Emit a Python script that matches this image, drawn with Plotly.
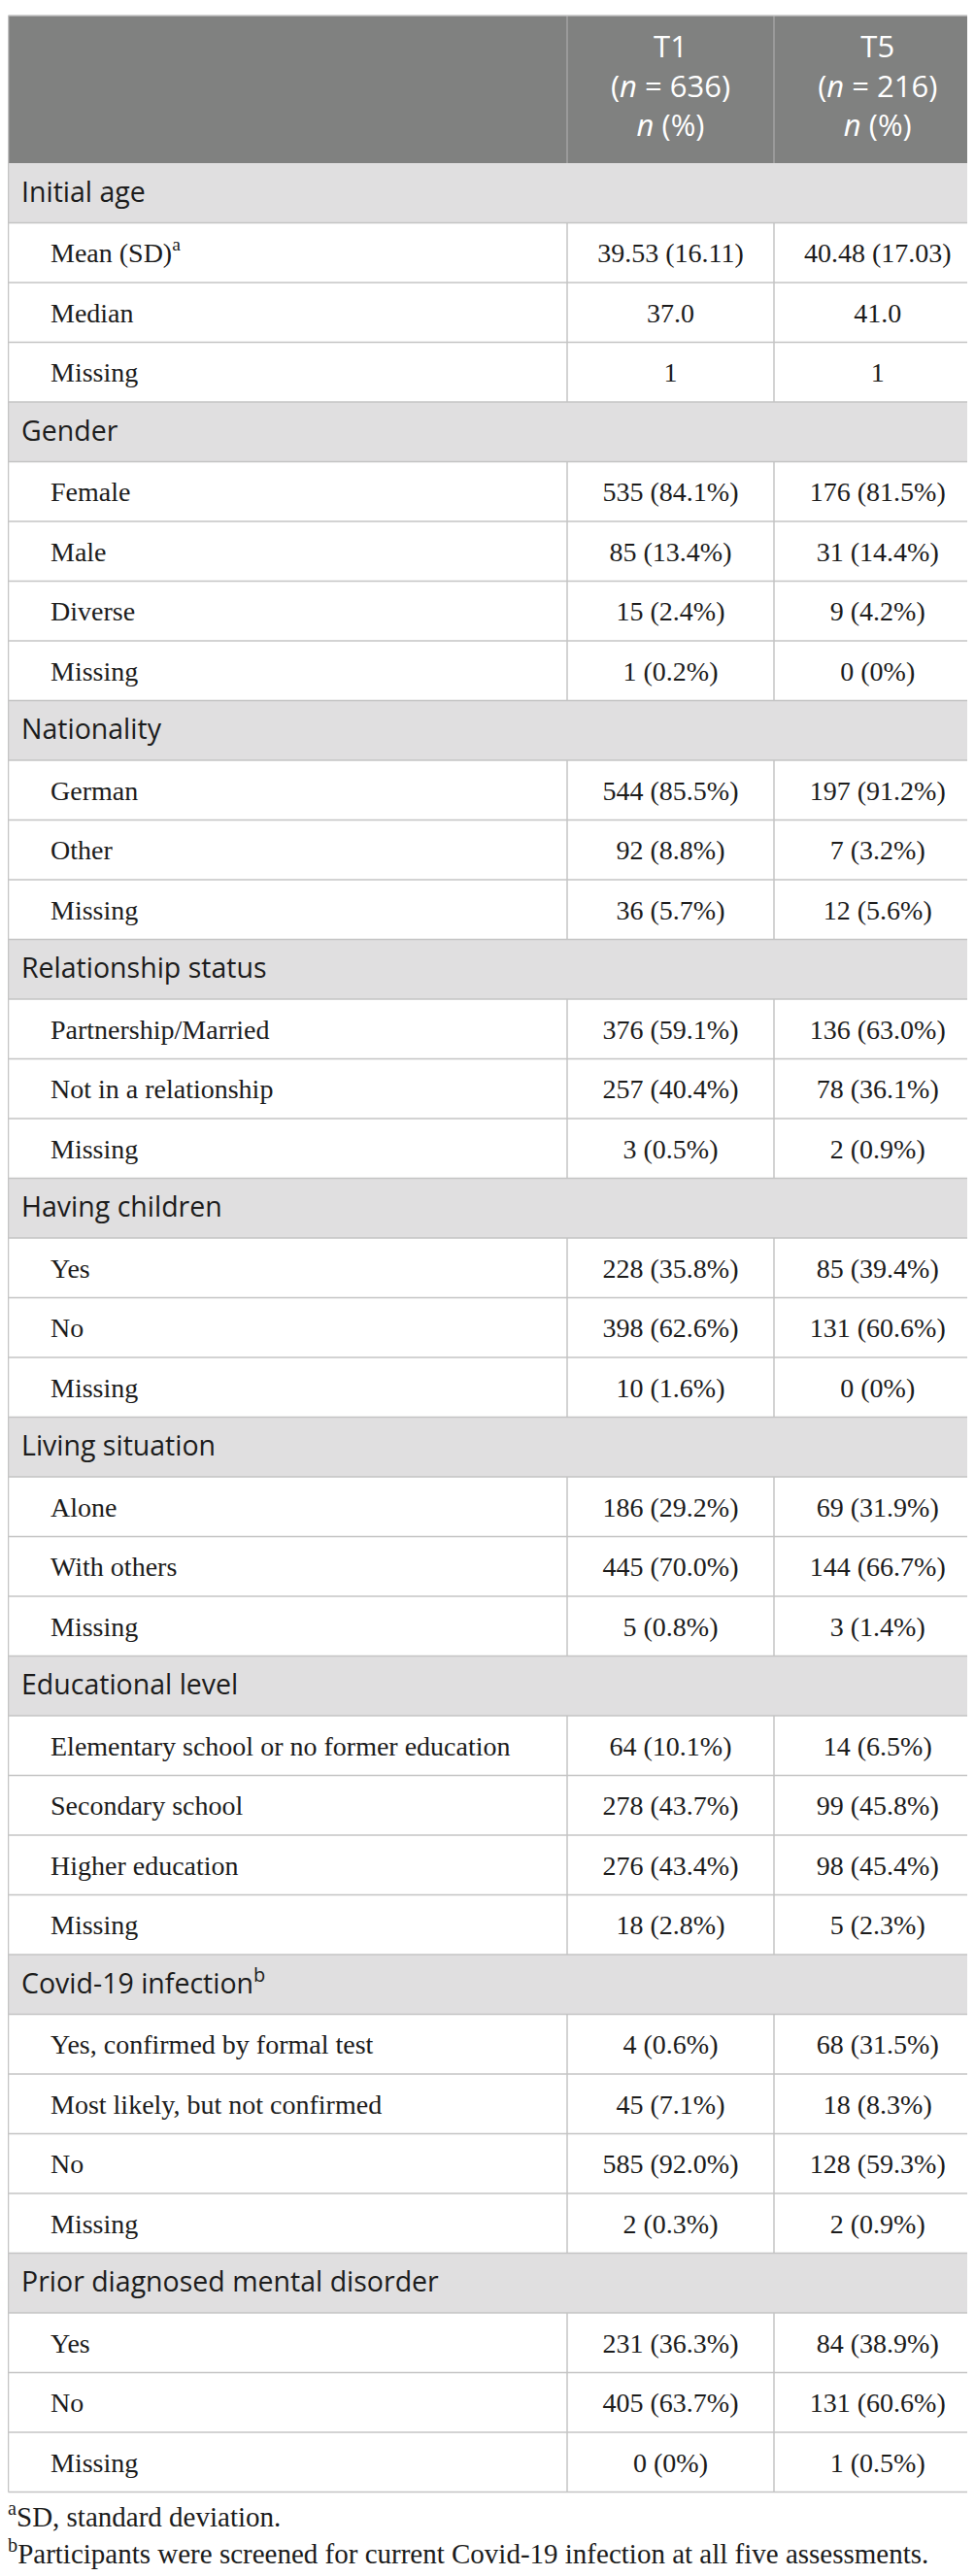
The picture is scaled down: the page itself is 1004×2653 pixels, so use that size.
import plotly.graph_objects as go

groups = ["Initial age", "Gender", "Nationality", "Relationship status", "Having children",
          "Living situation", "Educational level", "Covid-19 infection<sup>b</sup>",
          "Prior diagnosed mental disorder"]
items = [
    ["Mean (SD)<sup>a</sup>", "Median", "Missing"],
    ["Female", "Male", "Diverse", "Missing"],
    ["German", "Other", "Missing"],
    ["Partnership/Married", "Not in a relationship", "Missing"],
    ["Yes", "No", "Missing"],
    ["Alone", "With others", "Missing"],
    ["Elementary school or no former education", "Secondary school", "Higher education", "Missing"],
    ["Yes, confirmed by formal test", "Most likely, but not confirmed", "No", "Missing"],
    ["Yes", "No", "Missing"],
]
t1 = [
    ["39.53 (16.11)", "37.0", "1"],
    ["535 (84.1%)", "85 (13.4%)", "15 (2.4%)", "1 (0.2%)"],
    ["544 (85.5%)", "92 (8.8%)", "36 (5.7%)"],
    ["376 (59.1%)", "257 (40.4%)", "3 (0.5%)"],
    ["228 (35.8%)", "398 (62.6%)", "10 (1.6%)"],
    ["186 (29.2%)", "445 (70.0%)", "5 (0.8%)"],
    ["64 (10.1%)", "278 (43.7%)", "276 (43.4%)", "18 (2.8%)"],
    ["4 (0.6%)", "45 (7.1%)", "585 (92.0%)", "2 (0.3%)"],
    ["231 (36.3%)", "405 (63.7%)", "0 (0%)"],
]
t5 = [
    ["40.48 (17.03)", "41.0", "1"],
    ["176 (81.5%)", "31 (14.4%)", "9 (4.2%)", "0 (0%)"],
    ["197 (91.2%)", "7 (3.2%)", "12 (5.6%)"],
    ["136 (63.0%)", "78 (36.1%)", "2 (0.9%)"],
    ["85 (39.4%)", "131 (60.6%)", "0 (0%)"],
    ["69 (31.9%)", "144 (66.7%)", "3 (1.4%)"],
    ["14 (6.5%)", "99 (45.8%)", "98 (45.4%)", "5 (2.3%)"],
    ["68 (31.5%)", "18 (8.3%)", "128 (59.3%)", "2 (0.9%)"],
    ["84 (38.9%)", "131 (60.6%)", "1 (0.5%)"],
]
headers = ["T1<br>(<i>n</i> = 636)<br><i>n</i> (%)", "T5<br>(<i>n</i> = 216)<br><i>n</i> (%)"]
footnotes = ["<sup>a</sup>SD, standard deviation.",
             "<sup>b</sup>Participants were screened for current Covid-19 infection at all five assessments."]

W, H = 1004, 2653
top, head_h, row_h = 8, 152, 61.5
cols = [0.5, 576, 789, 1002.5]
line_c = "#c4c4c4"
header_bg = "#808180"
group_bg = "#e0dfe0"
ink = "#1c1c1c"

# build row list
rows = []
for g, its, a, b in zip(groups, items, t1, t5):
    rows.append(("group", g, "", ""))
    for it, va, vb in zip(its, a, b):
        rows.append(("item", it, va, vb))

shapes = []
# header
shapes.append(dict(type="rect", x0=cols[0], x1=cols[3], y0=top, y1=top + head_h,
                   fillcolor=header_bg, line_width=0, layer="below"))
for cx in cols[1:3]:
    shapes.append(dict(type="line", x0=cx, x1=cx, y0=top, y1=top + head_h,
                       line=dict(color="#a3a3a3", width=1.5)))

gy, gt = [], []
iy, it_ = [], []
at, bt = [], []
y = top + head_h
for kind, label, va, vb in rows:
    y0, y1 = y, y + row_h
    yc = (y0 + y1) / 2
    if kind == "group":
        shapes.append(dict(type="rect", x0=cols[0], x1=cols[3], y0=y0, y1=y1,
                           fillcolor=group_bg, line_width=0, layer="below"))
        gy.append(yc + 2); gt.append(label)
    else:
        for cx in cols[1:3]:
            shapes.append(dict(type="line", x0=cx, x1=cx, y0=y0, y1=y1,
                               line=dict(color=line_c, width=1.5)))
        iy.append(yc + 3); it_.append(label)
        at.append(va); bt.append(vb)
    shapes.append(dict(type="line", x0=cols[0], x1=cols[3], y0=y1, y1=y1,
                       line=dict(color=line_c, width=1.5)))
    y = y1
bottom = y

# outer border
shapes.append(dict(type="line", x0=cols[0], x1=cols[3], y0=top, y1=top,
                   line=dict(color=line_c, width=1.5)))
for cx in (cols[0], cols[3]):
    shapes.append(dict(type="line", x0=cx, x1=cx, y0=top, y1=bottom,
                       line=dict(color=line_c, width=1.5)))

serif = dict(family="Liberation Serif", size=28, color=ink)
fig = go.Figure()
fig.add_trace(go.Scatter(x=[(cols[1] + cols[2]) / 2, (cols[2] + cols[3]) / 2],
                         y=[top + head_h / 2] * 2, text=headers, mode="text",
                         textposition="middle center",
                         textfont=dict(family="Open Sans", size=31, color="white")))
fig.add_trace(go.Scatter(x=[14] * len(gy), y=gy, text=gt, mode="text",
                         textposition="middle right",
                         textfont=dict(family="Open Sans", size=28.5, color=ink)))
fig.add_trace(go.Scatter(x=[44] * len(iy), y=iy, text=it_, mode="text",
                         textposition="middle right", textfont=serif))
fig.add_trace(go.Scatter(x=[(cols[1] + cols[2]) / 2] * len(iy), y=iy, text=at, mode="text",
                         textposition="middle center", textfont=serif))
fig.add_trace(go.Scatter(x=[(cols[2] + cols[3]) / 2] * len(iy), y=iy, text=bt, mode="text",
                         textposition="middle center", textfont=serif))
fig.add_trace(go.Scatter(x=[0, 0], y=[bottom + 28.5, bottom + 66.5], text=footnotes,
                         mode="text", textposition="middle right",
                         textfont=dict(family="Liberation Serif", size=29, color=ink)))
fig.update_traces(hoverinfo="skip", showlegend=False)

fig.update_layout(width=W, height=H, margin=dict(l=0, r=0, t=0, b=0),
                  paper_bgcolor="white", plot_bgcolor="white", shapes=shapes,
                  xaxis=dict(range=[0, W], visible=False, fixedrange=True),
                  yaxis=dict(range=[H, 0], visible=False, fixedrange=True))
fig.write_html("out.html")
